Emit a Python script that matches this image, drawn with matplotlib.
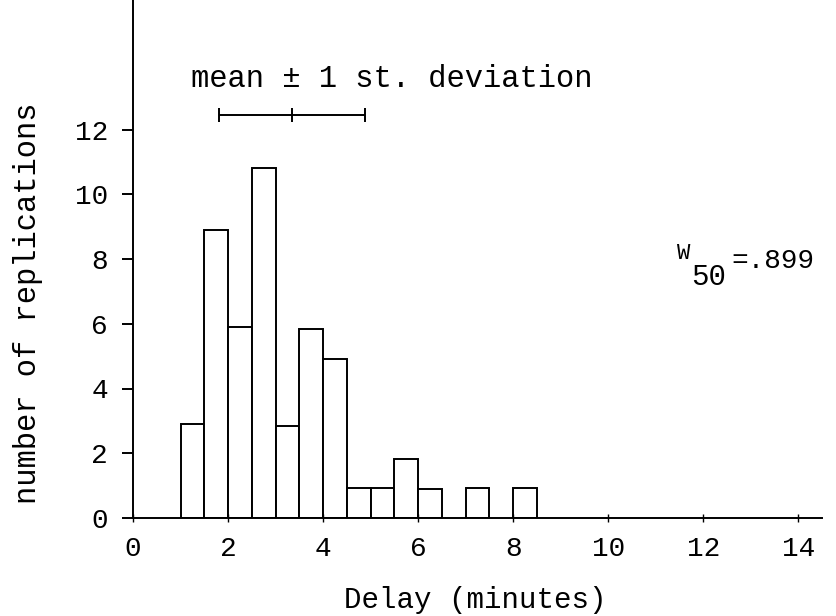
import matplotlib
matplotlib.use("Agg")
import matplotlib.pyplot as plt
import numpy as np

plt.rcParams['font.family'] = ['Liberation Mono', 'DejaVu Sans Mono']

# histogram of delays (bin lefts in minutes, counts)
bin_left = [1.0, 1.5, 2.0, 2.5, 3.0, 3.5, 4.0, 4.5, 5.0, 5.5, 6.0, 7.0, 8.0]
counts = [2.9, 8.9, 5.9, 10.8, 2.85, 5.85, 4.9, 0.93, 0.93, 1.83, 0.9, 0.92, 0.94]
bin_width = 0.5

mean_delay = 3.35
sd_delay = 1.53

xticks = [0, 2, 4, 6, 8, 10, 12, 14]
yticks = [0, 2, 4, 6, 8, 10, 12]

fig = plt.figure(figsize=(8.37, 6.16), dpi=100)
ax = fig.add_axes([133/837, 1 - 518/616, (822 - 133)/837, 518/616])

ax.bar(bin_left, counts, width=bin_width, align='edge',
       facecolor='white', edgecolor='black', linewidth=1.4)

# mean +/- 1 sd bar
ax.errorbar(mean_delay, 12.45, xerr=sd_delay, fmt='none', ecolor='black',
            elinewidth=1.4, capsize=5, capthick=1.4)
ax.plot([mean_delay], [12.45], marker='|', markersize=10, color='black', mew=1.4)
ax.text(5.45, 13.3, 'mean \u00b1 1 st. deviation', ha='center', va='baseline', fontsize=22)

# W_50 annotation
ax.text(11.45, 8.0, 'W', ha='left', va='baseline', fontsize=16)
ax.text(11.75, 7.19, '50', ha='left', va='baseline', fontsize=21)
ax.text(12.6, 7.72, '=.899', ha='left', va='baseline', fontsize=20)

ax.set_xlim(0, 14.5)
ax.set_ylim(0, 16)
ax.set_xticks(xticks)
ax.set_yticks(yticks)
ax.tick_params(axis='y', direction='out', length=8, width=1.4, labelsize=20, pad=10)
ax.tick_params(axis='x', direction='inout', length=6, width=1.0, labelsize=20, pad=10)

for s in ['top', 'right']:
    ax.spines[s].set_visible(False)
for s in ['left', 'bottom']:
    ax.spines[s].set_linewidth(1.4)

fig.text(475/837, 1 - 608/616, 'Delay (minutes)', ha='center', va='baseline', fontsize=21)
fig.text(28/837, 1 - 303/616, 'number of replications', ha='center', va='center',
         rotation=90, fontsize=22)

fig.savefig('out.png', dpi=100)
